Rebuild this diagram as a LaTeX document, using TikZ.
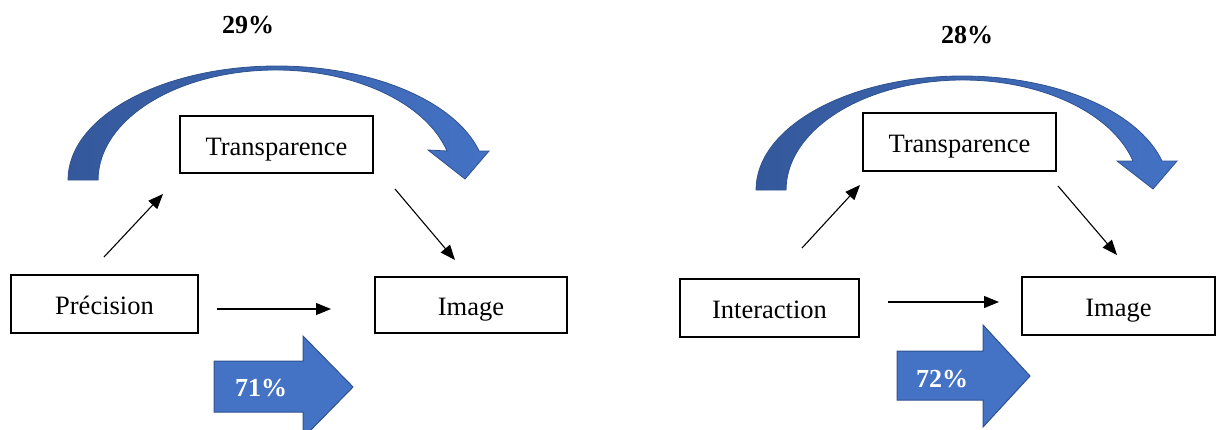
\documentclass[tikz,border=0pt]{standalone}
\usepackage{fontspec}
\setmainfont{Liberation Serif}
\usetikzlibrary{arrows.meta}
\definecolor{bluefill}{RGB}{68,114,196}
\definecolor{bluedark}{RGB}{47,82,143}
\definecolor{bluedeep}{RGB}{52,88,155}
\begin{document}
\begin{tikzpicture}[x=1pt,y=-1pt,
  box/.style={draw=black,line width=2pt,inner sep=0pt,text height=21pt,text depth=0pt,font=\fontsize{26.5}{30}\selectfont},
  conn/.style={line width=1.1pt,-{Triangle[length=15pt,width=12pt]}},
  pct/.style={font=\fontsize{26}{30}\selectfont\bfseries},
  wpct/.style={font=\fontsize{26}{30}\selectfont\bfseries,text=white},
  bigarrow/.style={fill=bluefill,draw=bluedark,line width=1pt},
  curvarrow/.style={left color=bluedeep,right color=bluefill,draw=bluedark,line width=0.8pt}]
\useasboundingbox (0,0) rectangle (1217,429);
\clip (0,0) rectangle (1217,429);
% ---------- left diagram ----------
\draw[curvarrow] (68,180) arc[start angle=180,end angle=14.74,x radius=209pt,y radius=114pt]
  -- (489,151) -- (465,179) -- (428,150) -- (447,151)
  arc[start angle=15.29,end angle=180,x radius=177.6pt,y radius=110pt] -- cycle;
\node[pct] (p29) at (248,25) {29\%};
\node[box,minimum width=193pt,minimum height=57pt] (tL) at (276.5,144.5) {Transparence};
\node[box,minimum width=187pt,minimum height=58pt] (pr) at (104.5,304) {Précision};
\node[box,minimum width=192pt,minimum height=56pt] (iL) at (471,305) {Image};
\coordinate (a1s) at (104,257); \coordinate (a1e) at (163,194);
\coordinate (a2s) at (395,189); \coordinate (a2e) at (455,260);
\coordinate (a3s) at (217,309); \coordinate (a3e) at (331,309);
\draw[conn] (a1s) -- (a1e);
\draw[conn] (a2s) -- (a2e);
\draw[conn] (a3s) -- (a3e);
\draw[bigarrow] (214,361) -- (303,361) -- (303,336) -- (353,387) -- (303,438) -- (303,412) -- (214,412) -- cycle;
\node[wpct] (p71) at (261,388) {71\%};
% ---------- right diagram ----------
\draw[curvarrow] (756,190) arc[start angle=180,end angle=14.74,x radius=206.4pt,y radius=114pt]
  -- (1177,161) -- (1153,189) -- (1117,161) -- (1133,161)
  arc[start angle=15.29,end angle=180,x radius=176.6pt,y radius=110pt] -- cycle;
\node[pct] (p28) at (967,35) {28\%};
\node[box,minimum width=193pt,minimum height=58pt] (tR) at (959.5,142) {Transparence};
\node[box,minimum width=179pt,minimum height=58pt] (in) at (769.5,308) {Interaction};
\node[box,minimum width=193pt,minimum height=58pt] (iR) at (1118.5,306) {Image};
\coordinate (b1s) at (802,248); \coordinate (b1e) at (860,185);
\coordinate (b2s) at (1058,186); \coordinate (b2e) at (1117,255);
\coordinate (b3s) at (888,302); \coordinate (b3e) at (999,302);
\draw[conn] (b1s) -- (b1e);
\draw[conn] (b2s) -- (b2e);
\draw[conn] (b3s) -- (b3e);
\draw[bigarrow] (897,351) -- (983,351) -- (983,325) -- (1030,376) -- (983,427) -- (983,400) -- (897,400) -- cycle;
\node[wpct] (p72) at (942,379) {72\%};
\end{tikzpicture}
\end{document}
